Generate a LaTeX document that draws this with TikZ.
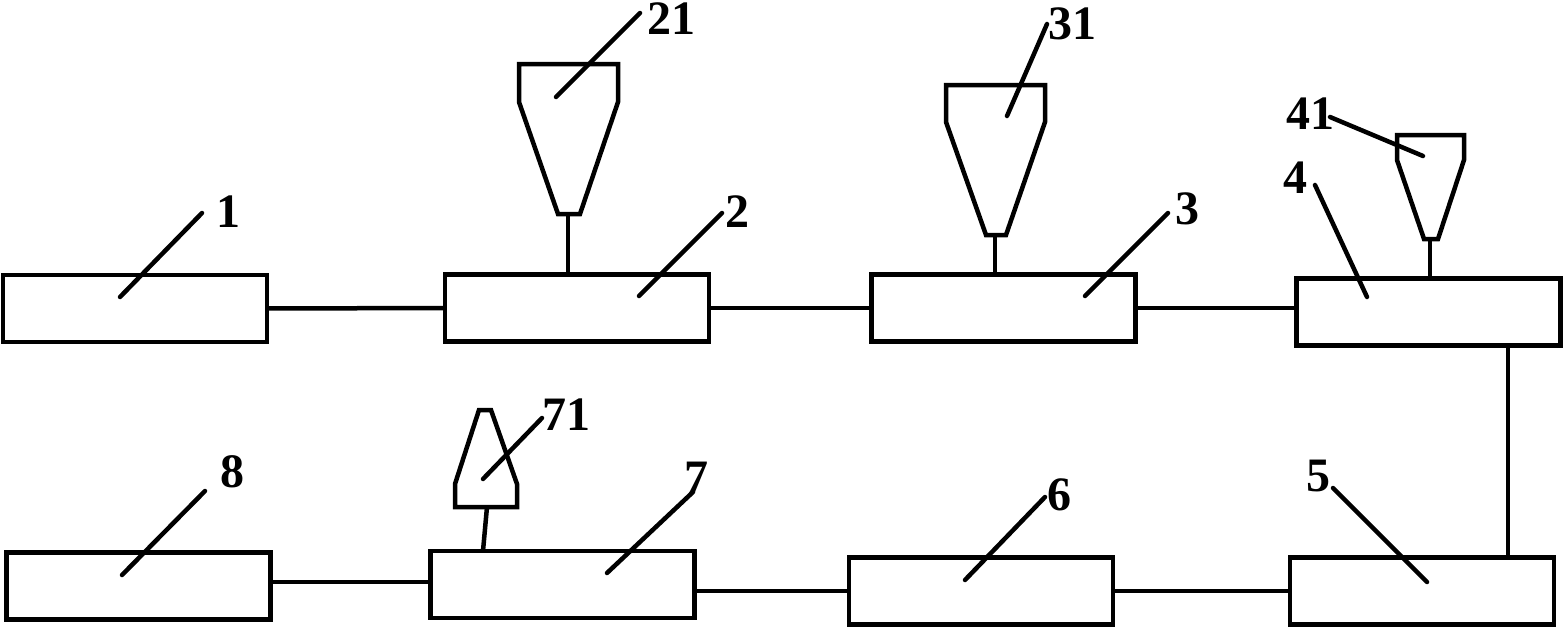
\documentclass[tikz,border=0pt]{standalone}
\usepackage{fontspec}
\setmainfont{Liberation Serif}
\begin{document}
\begin{tikzpicture}[x=1pt,y=-1pt,
  line width=4.5pt,
  box/.style={draw,rectangle,minimum width=264pt,minimum height=67pt,inner sep=0pt,outer sep=0pt},
  lbl/.style={inner sep=0pt,font=\fontsize{48}{48}\selectfont\bfseries},
  leader/.style={line cap=round},
  hopper/.style={line join=miter}]
\useasboundingbox (0,0) rectangle (1564,629);
% boxes
\node[box] (b1) at (135,308.5) {};
\node[box] (b2) at (577,308) {};
\node[box] (b3) at (1003.5,308) {};
\node[box] (b4) at (1428.5,312) {};
\node[box] (b5) at (1422,591) {};
\node[box] (b6) at (981,591) {};
\node[box] (b7) at (562.5,584.5) {};
\node[box] (b8) at (138.5,586) {};
% connectors
\draw (b1.east) -- (b2.west);
\draw (b2.east) -- (b3.west);
\draw (b3.east) -- (b3.east -| b4.west);
\coordinate (vx) at (1508,0);
\draw (b4.south -| vx) -- (b5.north -| vx);
\draw (b5.west) -- (b5.west -| b6.east);
\draw (b6.west) -- (b6.west -| b7.east);
\draw (b7.west |- 0,582) -- (b8.east |- 0,582);
% hoppers
\draw[hopper] (519,64) -- (618,64) -- (618,102) -- (580,214) -- (558,214) -- (519,102) -- cycle;
\coordinate (h21) at (568,214);
\draw (h21) -- (h21 |- b2.north);
\draw[hopper] (946,85) -- (1045,85) -- (1045,122) -- (1006,235) -- (986,235) -- (946,122) -- cycle;
\coordinate (h31) at (995,235);
\draw (h31) -- (h31 |- b3.north);
\draw[hopper] (1397,135) -- (1464,135) -- (1464,160) -- (1438,239) -- (1424,239) -- (1397,160) -- cycle;
\coordinate (h41) at (1430,239);
\draw (h41) -- (h41 |- b4.north);
\draw[hopper] (479,410) -- (491,410) -- (517,484) -- (517,507) -- (455,507) -- (455,484) -- cycle;
\coordinate (h71) at (487,507);
\draw (h71) -- (483,0 |- b7.north);
% labels
\node[lbl] (t1) at (228,212) {1};
\node[lbl] (t2) at (737,212) {2};
\node[lbl] (t3) at (1187,209) {3};
\node[lbl] (t4) at (1295,178) {4};
\node[lbl] (t5) at (1318,476) {5};
\node[lbl] (t6) at (1059,495) {6};
\node[lbl] (t7) at (696,478) {7};
\node[lbl] (t8) at (232,472) {8};
\node[lbl] (t21) at (671,19) {21};
\node[lbl] (t31) at (1072,24) {31};
\node[lbl] (t41) at (1310,114) {41};
\node[lbl] (t71) at (566,415) {71};
% leaders
\draw[leader] (120,297) -- (202,213);
\draw[leader] (639,296) -- (722,213);
\draw[leader] (1085,296) -- (1168,213);
\draw[leader] (1367,297) -- (1315,185);
\draw[leader] (1427,582) -- (1333,488);
\draw[leader] (965,580) -- (1045,497);
\draw[leader] (607,573) -- (693,492);
\draw[leader] (122,575) -- (205,491);
\draw[leader] (556,97) -- (640,13);
\draw[leader] (1007,116) -- (1047,24);
\draw[leader] (1423,156) -- (1330,117);
\draw[leader] (483,479) -- (542,418);
\end{tikzpicture}
\end{document}
